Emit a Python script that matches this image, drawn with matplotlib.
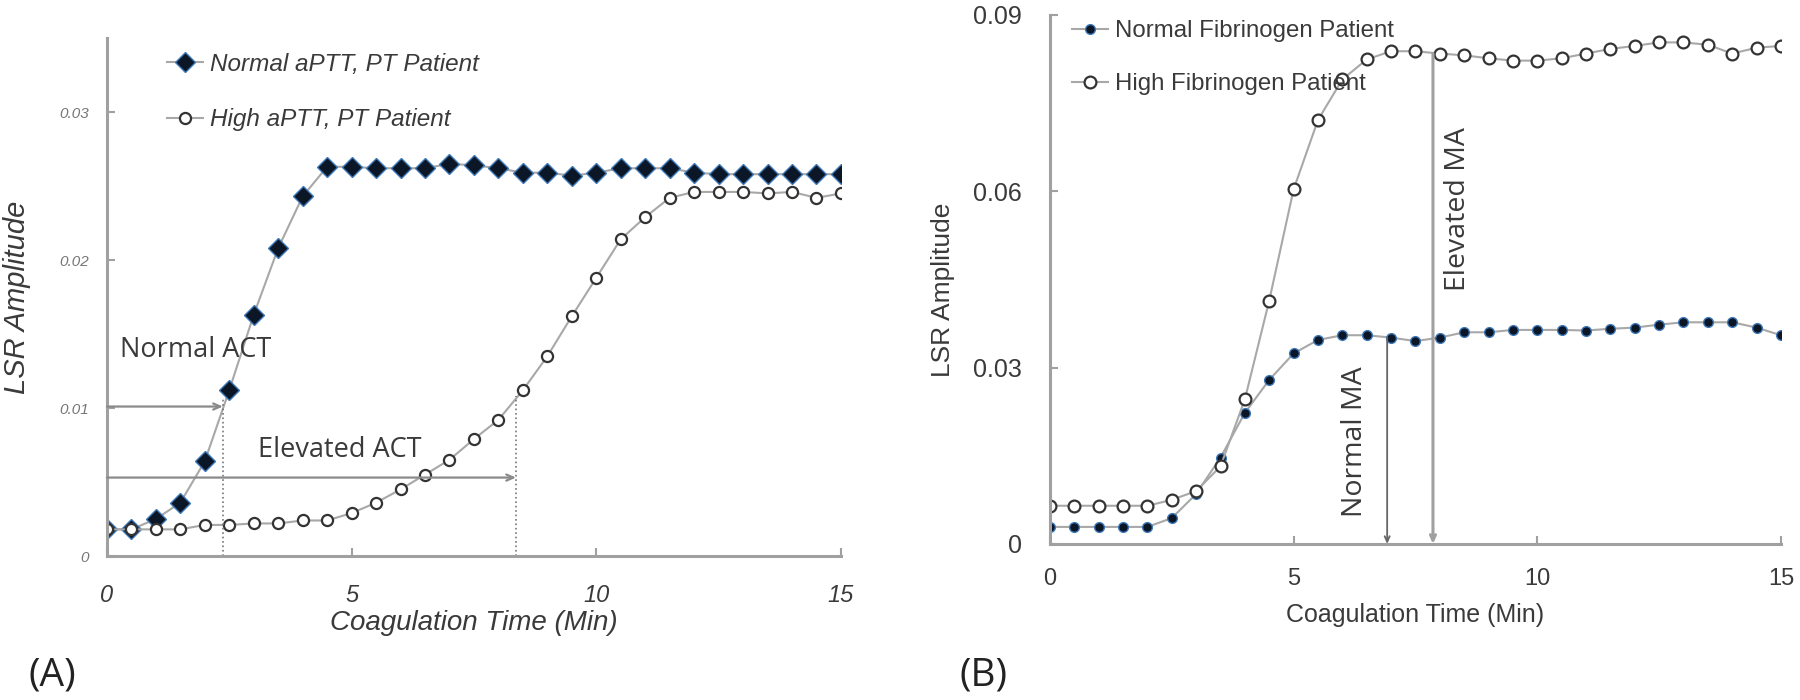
# Coagulation curves: ACT (A) and MA (B) from LSR amplitude traces

import matplotlib
matplotlib.use('Agg')
import matplotlib.pyplot as plt

plt.rcParams['font.family'] = ['Liberation Sans', 'DejaVu Sans']

# Sampling times (min), every 30 s
times = [i * 0.5 for i in range(31)]

# Panel A: LSR amplitude for normal and high aPTT/PT patients
normal_aptt = [0.0018, 0.0018, 0.0025, 0.0036, 0.0064, 0.0112, 0.0163,
               0.0208, 0.0243, 0.0263, 0.0263, 0.0262, 0.0262, 0.0262,
               0.0265, 0.0264, 0.0262, 0.0259, 0.0259, 0.0257, 0.0259,
               0.0262, 0.0262, 0.0262, 0.0259, 0.0258, 0.0258, 0.0258,
               0.0258, 0.0258, 0.0258]
high_aptt = [0.0018, 0.0018, 0.0018, 0.0018, 0.0021, 0.0021, 0.0022,
             0.0022, 0.0024, 0.0024, 0.0029, 0.0036, 0.0045, 0.0055,
             0.0065, 0.0079, 0.0092, 0.0112, 0.0135, 0.0162, 0.0188,
             0.0214, 0.0229, 0.0242, 0.0246, 0.0246, 0.0246, 0.0245,
             0.0246, 0.0242, 0.0245]

# Panel B: LSR amplitude for normal and high fibrinogen patients
normal_fib = [0.0029, 0.0029, 0.0029, 0.0029, 0.0029, 0.0044, 0.0085,
              0.0147, 0.0223, 0.0279, 0.0324, 0.0347, 0.0355, 0.0355,
              0.0351, 0.0345, 0.0351, 0.0360, 0.0360, 0.0364, 0.0364,
              0.0364, 0.0363, 0.0366, 0.0368, 0.0373, 0.0377, 0.0377,
              0.0377, 0.0368, 0.0355]
high_fib = [0.0065, 0.0065, 0.0065, 0.0065, 0.0065, 0.0075, 0.0090,
            0.0132, 0.0246, 0.0414, 0.0603, 0.0721, 0.0790, 0.0824,
            0.0838, 0.0838, 0.0834, 0.0831, 0.0826, 0.0822, 0.0822,
            0.0826, 0.0834, 0.0842, 0.0847, 0.0853, 0.0853, 0.0849,
            0.0834, 0.0844, 0.0847]

# Readouts: ACT times with their threshold levels, MA times and amplitudes
act_normal, act_normal_lvl = 2.37, 0.0101
act_high, act_high_lvl = 8.36, 0.0053
ma_normal_t, ma_normal = 6.92, 0.0351
ma_high_t, ma_high = 7.86, 0.0834

x_ticks = [0, 5, 10, 15]
ya_ticks = [0, 0.01, 0.02, 0.03]
ya_labels = ['0', '0.01', '0.02', '0.03']
yb_ticks = [0, 0.03, 0.06, 0.09]
yb_labels = ['0', '0.03', '0.06', '0.09']

TXT = '#3a3a3a'
AXC = '#a0a0a0'
LINE = '#a8a8a8'
CALIBRI = ['Open Sans', 'DejaVu Sans']

fig = plt.figure(figsize=(18, 7), dpi=100)
ax_a = fig.add_axes([0.0594, 0.2057, 0.4078, 0.74])
ax_b = fig.add_axes([0.5833, 0.2229, 0.4061, 0.756])


def style_axes(ax):
    for side in ['top', 'right']:
        ax.spines[side].set_visible(False)
    for side in ['left', 'bottom']:
        ax.spines[side].set_color(AXC)
        ax.spines[side].set_linewidth(2.2)
    ax.tick_params(direction='in', color=AXC, length=6, width=1.5,
                   labelcolor=TXT)


# ---- Panel A ----
style_axes(ax_a)
ax_a.plot(times, normal_aptt, '-', color=LINE, lw=1.5, marker='D', ms=10,
          mfc='#0b1626', mec='#3d78b8', mew=1.0,
          label='Normal aPTT, PT Patient')
ax_a.plot(times, high_aptt, '-', color=LINE, lw=1.5, marker='o', ms=8,
          mfc='white', mec='#333333', mew=1.6,
          label='High aPTT, PT Patient')
ax_a.set_xlim(0, 15)
ax_a.set_ylim(0, 0.035)
ax_a.set_xticks(x_ticks)
ax_a.set_xticklabels([str(t) for t in x_ticks], fontsize=17, style='italic')
ax_a.set_yticks(ya_ticks)
ax_a.set_yticklabels(ya_labels, fontsize=11, style='italic', color='#777777')
ax_a.tick_params(axis='x', pad=20)
ax_a.tick_params(axis='y', pad=13)
ax_a.set_xlabel('Coagulation Time (Min)', fontsize=20, style='italic',
                color=TXT, va='center')
ax_a.xaxis.set_label_coords(0.5, -0.13)
ax_a.set_ylabel('LSR Amplitude', fontsize=21, style='italic', color=TXT,
                va='center')
ax_a.yaxis.set_label_coords(-0.1226, 0.5)

# ACT arrows and dotted drop lines
arrow_a = dict(arrowstyle='->,head_length=0.5,head_width=0.22',
               color='#8a8a8a', lw=1.6, shrinkA=0, shrinkB=0)
ax_a.annotate('', xy=(act_normal, act_normal_lvl), xytext=(0, act_normal_lvl),
              arrowprops=arrow_a)
ax_a.annotate('', xy=(act_high, act_high_lvl), xytext=(0, act_high_lvl),
              arrowprops=arrow_a)
ax_a.plot([act_normal, act_normal], [0, 0.0107], ':', color='#777777', lw=1.2)
ax_a.plot([act_high, act_high], [0, 0.0108], ':', color='#777777', lw=1.2)
ax_a.text(0.27, 0.0139, 'Normal ACT', fontsize=19.5, color=TXT,
          family=CALIBRI, va='center')
ax_a.text(3.09, 0.00716, 'Elevated ACT', fontsize=19.5, color=TXT,
          family=CALIBRI, va='center')

leg_a = ax_a.legend(loc='upper left', bbox_to_anchor=(0.082, 0.972),
                    frameon=False, borderpad=0, borderaxespad=0,
                    handlelength=1.48, handletextpad=0.3, labelspacing=1.35,
                    prop={'size': 17.5, 'style': 'italic'})
for t in leg_a.get_texts():
    t.set_color(TXT)

# ---- Panel B ----
style_axes(ax_b)
ax_b.plot(times, normal_fib, '-', color=LINE, lw=1.5, marker='o', ms=7,
          mfc='#0b1626', mec='#3d78b8', mew=1.0,
          label='Normal Fibrinogen Patient')
ax_b.plot(times, high_fib, '-', color=LINE, lw=1.5, marker='o', ms=8.5,
          mfc='white', mec='#333333', mew=1.6,
          label='High Fibrinogen Patient')
ax_b.set_xlim(0, 15)
ax_b.set_ylim(0, 0.09)
ax_b.set_xticks(x_ticks)
ax_b.set_xticklabels([str(t) for t in x_ticks], fontsize=17)
ax_b.set_yticks(yb_ticks)
ax_b.set_yticklabels(yb_labels, fontsize=18)
ax_b.tick_params(axis='x', pad=17)
ax_b.tick_params(axis='y', pad=20)
ax_b.set_xlabel('Coagulation Time (Min)', fontsize=18, color=TXT,
                va='center')
ax_b.xaxis.set_label_coords(0.5, -0.134)
ax_b.set_ylabel('LSR Amplitude', fontsize=19, color=TXT, va='center')
ax_b.yaxis.set_label_coords(-0.146, 0.48)

# MA readout lines
ax_b.annotate('', xy=(ma_normal_t, 0), xytext=(ma_normal_t, ma_normal),
              arrowprops=dict(arrowstyle='->,head_length=0.4,head_width=0.18',
                              color='#666666', lw=1.3, shrinkA=0, shrinkB=0))
ax_b.annotate('', xy=(ma_high_t, 0), xytext=(ma_high_t, ma_high),
              arrowprops=dict(arrowstyle='->,head_length=0.4,head_width=0.18',
                              color='#a0a0a0', lw=2.2, shrinkA=0, shrinkB=0))
ax_b.text(6.26, 0.01735, 'Normal MA', fontsize=20.5, color=TXT, rotation=90,
          ha='center', va='center', family=CALIBRI)
ax_b.text(8.37, 0.057, 'Elevated MA', fontsize=20.5, color=TXT, rotation=90,
          ha='center', va='center', family=CALIBRI)

leg_b = ax_b.legend(loc='upper left', bbox_to_anchor=(0.03, 0.99),
                    frameon=False, borderpad=0, borderaxespad=0,
                    handlelength=1.5, handletextpad=0.3, labelspacing=1.3,
                    prop={'size': 17.3})
for t in leg_b.get_texts():
    t.set_color(TXT)

# Panel letters
fig.text(0.0156, 0.0357, '(A)', fontsize=28, color='#222222',
         family=CALIBRI, va='center')
fig.text(0.5333, 0.0357, '(B)', fontsize=28, color='#222222',
         family=CALIBRI, va='center')

plt.savefig('out.png', dpi=100)
